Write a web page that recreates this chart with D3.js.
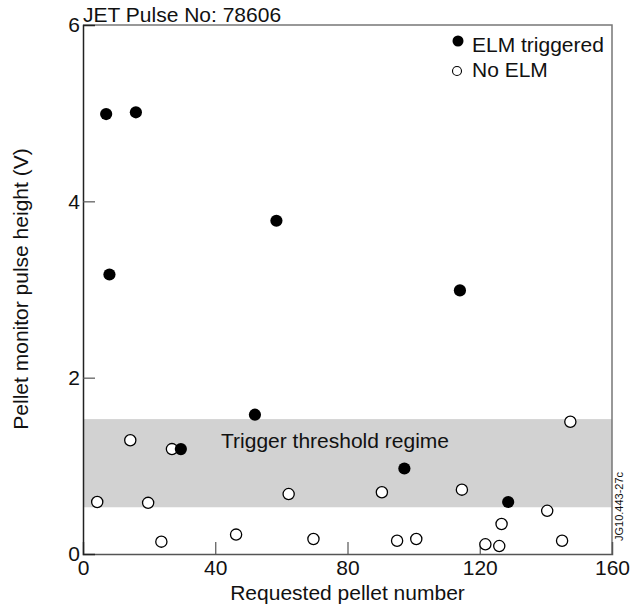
<!DOCTYPE html>
<html lang="en">
<head>
<meta charset="UTF-8">
<title>JET pellet ELM triggering</title>
<script src="https://cdn.jsdelivr.net/npm/d3@7"></script>
<style>
body { margin: 0; background: #fff; }
text { font-family: "Liberation Sans", Arial, sans-serif; fill: #111; }
.tick text { font-size: 21px; fill: #111; }
</style>
</head>
<body>
<svg width="630" height="610"></svg>
<script>
// ELM triggered (filled)
var elmX = [7, 16, 8, 58.5, 114, 52, 29.6, 97.2, 128.6];
var elmY = [4.99, 5.01, 3.17, 3.78, 2.99, 1.58, 1.19, 0.97, 0.59];
// No ELM (open)
var noX = [4.3, 14.3, 26.9, 19.7, 23.7, 46.3, 62.2, 69.7, 90.4, 95.0, 100.8, 114.6, 121.7, 125.9, 126.6, 140.4, 144.9, 147.4];
var noY = [0.59, 1.29, 1.19, 0.58, 0.14, 0.22, 0.68, 0.17, 0.70, 0.15, 0.17, 0.73, 0.11, 0.09, 0.34, 0.49, 0.15, 1.50];
var band = [0.53, 1.53];
var xTicks = [0, 40, 80, 120, 160];
var yTicks = [0, 2, 4, 6];

var svg = d3.select("svg");
var x = d3.scaleLinear().domain([0, 160]).range([83, 612]);
var y = d3.scaleLinear().domain([0, 6]).range([554, 25]);

// threshold band
svg.append("rect")
    .attr("x", x(0)).attr("width", x(160) - x(0))
    .attr("y", y(band[1])).attr("height", y(band[0]) - y(band[1]))
    .attr("fill", "#d2d2d2");

svg.append("text").attr("x", 221).attr("y", 448)
    .style("font-size", "21px").text("Trigger threshold regime");

// frame: top and right grey
svg.append("path")
    .attr("d", "M" + x(0) + "," + y(6) + "H" + x(160) + "V" + y(0))
    .attr("fill", "none").attr("stroke", "#777").attr("stroke-width", 1.5);

var xAxis = svg.append("g").attr("transform", "translate(0," + y(0) + ")")
    .call(d3.axisBottom(x).tickValues(xTicks).tickSize(-12).tickPadding(6).tickFormat(d3.format("d")));
xAxis.select(".domain").attr("stroke", "#555").attr("stroke-width", 1.5);
xAxis.selectAll(".tick line").attr("stroke", "#555").attr("stroke-width", 1.2);
xAxis.selectAll(".tick").filter(function(d) { return d === 0 || d === 160; }).select("line").remove();

var yAxis = svg.append("g").attr("transform", "translate(" + x(0) + ",0)")
    .call(d3.axisLeft(y).tickValues(yTicks).tickSize(-12).tickPadding(3).tickFormat(d3.format("d")));
yAxis.select(".domain").attr("stroke", "#222").attr("stroke-width", 1.5);
yAxis.selectAll(".tick line").attr("stroke", "#555").attr("stroke-width", 1.2);
yAxis.selectAll(".tick").filter(function(d) { return d === 0 || d === 6; }).select("line").remove();

// points
svg.append("g").selectAll("circle").data(d3.zip(noX, noY)).enter().append("circle")
    .attr("cx", function(d) { return x(d[0]); })
    .attr("cy", function(d) { return y(d[1]); })
    .attr("r", 5.6).attr("fill", "#fff").attr("stroke", "#000").attr("stroke-width", 1.3);

svg.append("g").selectAll("circle").data(d3.zip(elmX, elmY)).enter().append("circle")
    .attr("cx", function(d) { return x(d[0]); })
    .attr("cy", function(d) { return y(d[1]); })
    .attr("r", 6.1).attr("fill", "#000");

// legend
svg.append("circle").attr("cx", 458).attr("cy", 41).attr("r", 5.5).attr("fill", "#000");
svg.append("text").attr("x", 472).attr("y", 52).style("font-size", "21px").text("ELM triggered");
svg.append("circle").attr("cx", 457).attr("cy", 71).attr("r", 4.5)
    .attr("fill", "#fff").attr("stroke", "#000").attr("stroke-width", 1.1);
svg.append("text").attr("x", 472).attr("y", 77).style("font-size", "21px").text("No ELM");

// titles
svg.append("text").attr("x", 83).attr("y", 22).style("font-size", "21px").text("JET Pulse No: 78606");
svg.append("text").attr("x", (x(0) + x(160)) / 2).attr("y", 600)
    .attr("text-anchor", "middle").style("font-size", "21px").text("Requested pellet number");
svg.append("text").attr("transform", "translate(28,289) rotate(-90)")
    .attr("text-anchor", "middle").style("font-size", "21px").text("Pellet monitor pulse height (V)");
svg.append("text").attr("transform", "translate(623,541) rotate(-90)")
    .style("font-size", "11px").text("JG10.443-27c");
</script>
</body>
</html>
